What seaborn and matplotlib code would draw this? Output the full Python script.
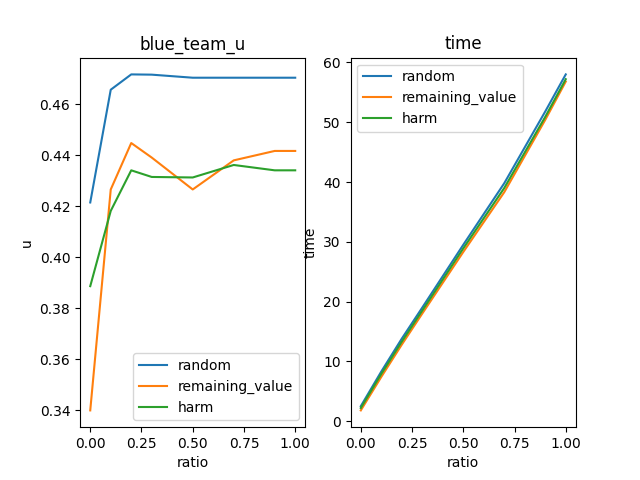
import matplotlib
matplotlib.use("Agg")
import matplotlib.pyplot as plt
import seaborn as sns

ratio = [0.0, 0.1, 0.2, 0.3, 0.5, 0.7, 0.9, 1.0]

u_random = [0.4215, 0.4657, 0.4717, 0.4716, 0.4704, 0.4704, 0.4704, 0.4704]
u_remaining = [0.3400, 0.4266, 0.4448, 0.4391, 0.4266, 0.4380, 0.4417, 0.4417]
u_harm = [0.3887, 0.4182, 0.4341, 0.4315, 0.4313, 0.4362, 0.4341, 0.4341]

t_random = [2.5, 8.3, 13.8, 19.0, 29.5, 39.8, 51.8, 58.0]
t_remaining = [1.8, 7.4, 12.8, 18.0, 28.3, 38.3, 50.4, 56.8]
t_harm = [2.2, 7.9, 13.3, 18.5, 28.9, 39.0, 50.9, 57.2]

names = ["random", "remaining_value", "harm"]

fig, axes = plt.subplots(1, 2, figsize=(6.4, 4.8), dpi=100)

ax = axes[0]
for name, vals in zip(names, [u_random, u_remaining, u_harm]):
    sns.lineplot(x=ratio, y=vals, ax=ax, label=name)
ax.set_title("blue_team_u")
ax.set_xlabel("ratio")
ax.set_ylabel("u")
ax.legend(loc="lower right")

ax = axes[1]
for name, vals in zip(names, [t_random, t_remaining, t_harm]):
    sns.lineplot(x=ratio, y=vals, ax=ax, label=name)
ax.set_title("time")
ax.set_xlabel("ratio")
ax.set_ylabel("time")
ax.legend(loc="upper left")

fig.savefig("out.png", dpi=100)
